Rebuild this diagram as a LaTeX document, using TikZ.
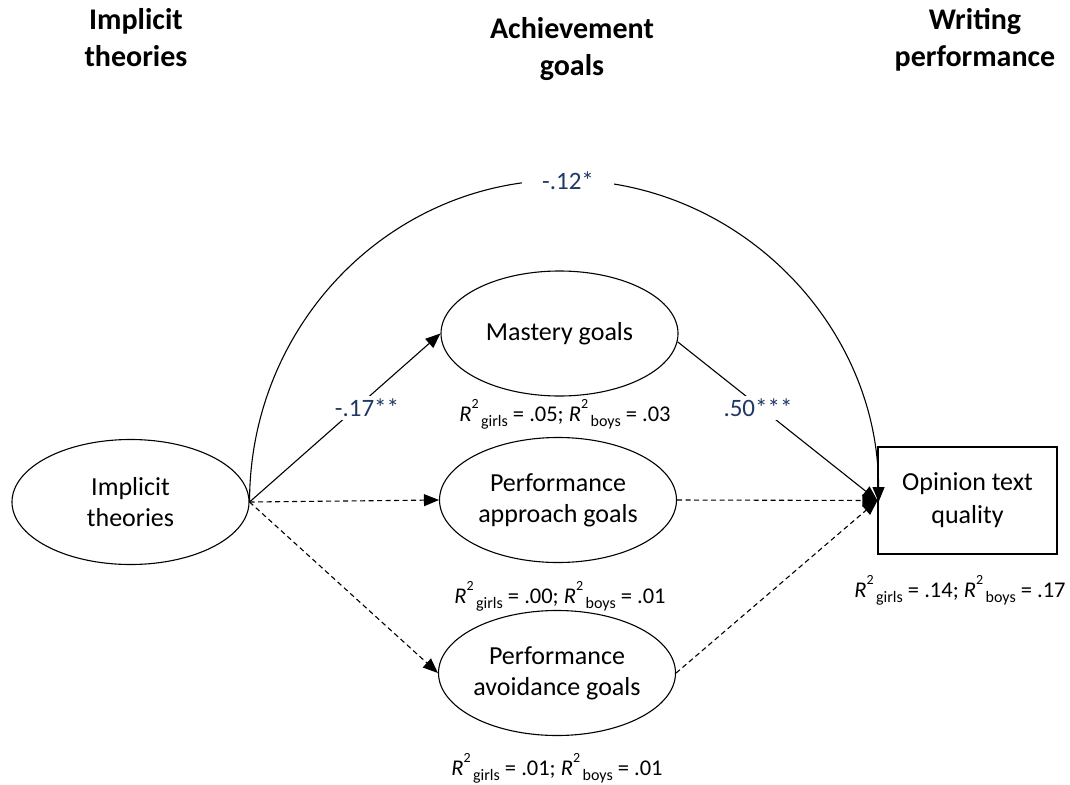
\documentclass[tikz,border=0pt]{standalone}
\usepackage{fontspec}
\setmainfont{Carlito}
\usetikzlibrary{shapes.geometric,arrows.meta}
\definecolor{coef}{RGB}{31,56,100}
\newcommand\Rsq[1]{\textit{R}\raisebox{0.58em}{\fontsize{14}{14}\selectfont 2}\kern2.5pt\raisebox{-0.22em}{\fontsize{16}{16}\selectfont #1}}
\begin{document}
\begin{tikzpicture}[x=1pt,y=-1pt,
  lat/.style={ellipse,draw,line width=1.1pt,minimum width=237pt,minimum height=125pt,inner sep=0pt,align=center,font=\fontsize{26}{31}\selectfont},
  obs/.style={rectangle,draw,line width=1.1pt,minimum width=179pt,minimum height=107pt,align=center,font=\fontsize{26}{33}\selectfont},
  hdr/.style={align=center,font=\fontsize{30}{37}\selectfont\bfseries},
  coefl/.style={fill=white,text=coef,font=\fontsize{25}{30}\selectfont,inner sep=3pt},
  rsq/.style={font=\fontsize{22.5}{27}\selectfont,inner sep=0pt},
  arr/.style={line width=1.1pt,-{Triangle[length=15pt,width=12pt]}},
  darr/.style={arr,dash pattern=on 5pt off 3.5pt},
]
\useasboundingbox (0,0) rectangle (1070,784);

% headers
\node[hdr] (h1) at (136,38) {Implicit\\theories};
\node[hdr] (h2) at (572,49) {Achievement\\goals};
\node[hdr] (h3) at (975,40) {Writing\\performance};

% nodes
\node[lat] (it) at (130.5,502) {Implicit\\theories};
\node[lat] (ms) at (559.5,333.5) {Mastery goals};
\node[lat] (ap) at (558,500) {Performance\\approach goals};
\node[lat] (av) at (557,673) {Performance\\avoidance goals};
\node[obs] (op) at (967.5,500.5) {Opinion text\\quality};

% R squared
\node[rsq] (r1) at (565,414) {\Rsq{girls} = .05; \Rsq{boys} = .03};
\node[rsq] (r2) at (560,596) {\Rsq{girls} = .00; \Rsq{boys} = .01};
\node[rsq] (r3) at (557,768) {\Rsq{girls} = .01; \Rsq{boys} = .01};
\node[rsq] (r4) at (960,590) {\Rsq{girls} = .14; \Rsq{boys} = .17};

% connectors
\draw[arr] (it.east) arc[start angle=180,end angle=0,x radius=314.5pt,y radius=322pt];
\draw[arr] (it.east) -- (ms.west);
\draw[darr] (it.east) -- (ap.west);
\draw[darr] (it.east) -- (av.west);
\draw[arr] (ms.-4) -- (op.west);
\draw[darr] (ap.east) -- (op.west);
\draw[darr] (av.east) -- (op.west);

% coefficient labels
\node[coefl,inner xsep=20pt] (c1) at (568,181) {-.12*};
\node[coefl] (c2) at (367,408) {-.17**};
\node[coefl] (c3) at (758,408) {.50***};
\end{tikzpicture}
\end{document}
